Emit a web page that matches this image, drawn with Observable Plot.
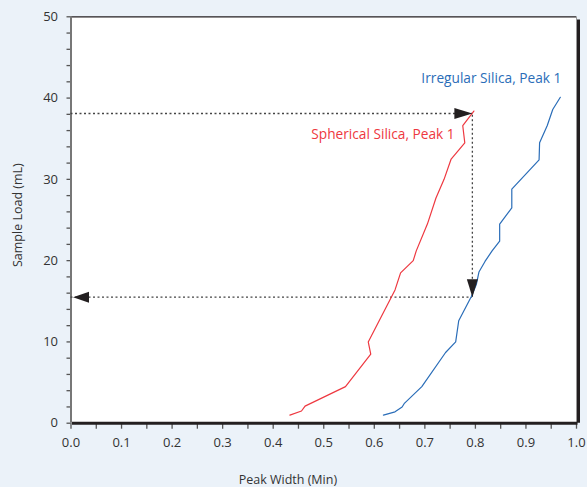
<!DOCTYPE html>
<html><head><meta charset="utf-8">
<script src="https://cdn.jsdelivr.net/npm/d3@7"></script>
<script src="https://cdn.jsdelivr.net/npm/@observablehq/plot@0.6"></script>
<style>body{margin:0;background:#EBF2F9;}</style>
</head><body><div id="chart"></div>
<script>
// Spherical Silica, Peak 1 (red)
const sphericalWidth = [0.433,0.456,0.463,0.543,0.593,0.588,0.641,0.652,0.677,0.683,0.705,0.722,0.738,0.752,0.779,0.775,0.797];
const sphericalLoad  = [1.0,1.5,2.1,4.5,8.5,10.0,16.4,18.5,20.0,21.2,24.5,27.7,30.0,32.5,34.5,36.6,38.4];
// Irregular Silica, Peak 1 (blue)
const irregularWidth = [0.618,0.641,0.655,0.659,0.694,0.741,0.761,0.767,0.792,0.802,0.807,0.819,0.833,0.848,0.848,0.872,0.872,0.926,0.927,0.942,0.953,0.968];
const irregularLoad  = [1.0,1.4,2.0,2.4,4.5,8.7,10.0,12.6,15.6,17.1,18.6,19.9,21.2,22.4,24.5,26.5,28.8,32.4,34.5,36.6,38.6,40.1];
// tick labels
const xTicks = [0,0.1,0.2,0.3,0.4,0.5,0.6,0.7,0.8,0.9,1.0];
const xMinor = [0.05,0.15,0.25,0.35,0.45,0.55,0.65,0.75,0.85,0.95];
const yTicks = [0,10,20,30,40,50];
const yMinor = [2,4,6,8,12,14,16,18,22,24,26,28,32,34,36,38,42,44,46,48];
// annotation (reading guide) points
const guideTopLoad = 38.1;
const guideWidth = 0.794;
const guideBottomLoad = 15.5;
const seriesLabels = ["Spherical Silica, Peak 1", "Irregular Silica, Peak 1"];
const labelWidth = [0.759, 0.970];
const labelLoad = [35.5, 42.4];

const sph = sphericalWidth.map((x,i)=>({x, y: sphericalLoad[i]}));
const irr = irregularWidth.map((x,i)=>({x, y: irregularLoad[i]}));
const labels = seriesLabels.map((t,i)=>({t, x: labelWidth[i], y: labelLoad[i]}));

const RED = "#EE3840", BLUE = "#2A6DB8", INK = "#231F20";
const arrowRight = {draw(c){c.moveTo(0,0);c.lineTo(-18,-5.5);c.lineTo(-18,5.5);c.closePath();}};
const arrowLeft  = {draw(c){c.moveTo(0,0);c.lineTo(16,-5.5);c.lineTo(16,5.5);c.closePath();}};
const arrowDown  = {draw(c){c.moveTo(0,0);c.lineTo(-5.5,-18);c.lineTo(5.5,-18);c.closePath();}};
const dash = {stroke:"#444", strokeWidth:1.3, strokeDasharray:"2,2.5"};

const chart = Plot.plot({
  width: 587, height: 487,
  marginLeft: 70.5, marginRight: 11, marginTop: 16.3, marginBottom: 64.3,
  style: {background:"#EBF2F9", fontFamily:"'Open Sans', sans-serif", fontSize:"13px", color:"#333", overflow:"visible"},
  x: {domain:[0,1]},
  y: {domain:[0,50]},
  marks: [
    Plot.frame({fill:"white", stroke:"none"}),
    Plot.axisX({ticks:xTicks, tickFormat:d3.format(".1f"), tickSize:6, tickPadding:9, label:null, stroke:"#555", strokeWidth:1.3, fontSize:13}),
    Plot.axisX({ticks:xMinor, tickFormat:()=>"", tickSize:6, label:null, stroke:"#555", strokeWidth:1.3}),
    Plot.axisY({ticks:yTicks, tickSize:4, tickPadding:9, label:null, stroke:"#555", strokeWidth:1.3, fontSize:13}),
    Plot.axisY({ticks:yMinor, tickFormat:()=>"", tickSize:4, label:null, stroke:"#555", strokeWidth:1.3}),
    // frame
    Plot.ruleY([50], {x1:0, x2:1, stroke:INK, strokeWidth:1.3}),
    Plot.ruleX([0], {y1:0, y2:50, stroke:"#777", strokeWidth:2}),
    Plot.ruleX([1], {y1:0, y2:49.6, dx:2, stroke:INK, strokeWidth:3}),
    Plot.ruleX([1], {y1:0, y2:50, stroke:"#999", strokeWidth:1}),
    Plot.ruleY([0], {x1:0, x2:1, dx:1.5, stroke:INK, strokeWidth:3}),
    // guides
    Plot.ruleY([guideTopLoad], {x1:0, x2:guideWidth, ...dash}),
    Plot.ruleX([guideWidth], {y1:guideBottomLoad, y2:guideTopLoad, ...dash}),
    Plot.ruleY([guideBottomLoad], {x1:0, x2:guideWidth, ...dash}),
    // series
    Plot.line(sph, {x:"x", y:"y", stroke:RED, strokeWidth:1.2}),
    Plot.line(irr, {x:"x", y:"y", stroke:BLUE, strokeWidth:1.2}),
    // arrowheads
    Plot.dot([{x:guideWidth, y:guideTopLoad}], {x:"x", y:"y", symbol:arrowRight, fill:INK, stroke:"none"}),
    Plot.dot([{x:guideWidth, y:guideBottomLoad}], {x:"x", y:"y", symbol:arrowDown, fill:INK, stroke:"none"}),
    Plot.dot([{x:0.004, y:guideBottomLoad}], {x:"x", y:"y", symbol:arrowLeft, fill:INK, stroke:"none"}),
    // labels
    Plot.text(labels, {x:"x", y:"y", text:"t", textAnchor:"end", fontSize:13.7, fill:(d,i)=> i===0?RED:BLUE}),
    Plot.text(["Peak Width (Min)"], {x:0.429, y:0, dy:56.5, fontSize:12.5, fill:"#333"}),
    Plot.text(["Sample Load (mL)"], {x:0, y:25.6, dx:-53, rotate:-90, fontSize:12.5, fill:"#333"})
  ]
});
document.getElementById("chart").appendChild(chart);
</script></body></html>
